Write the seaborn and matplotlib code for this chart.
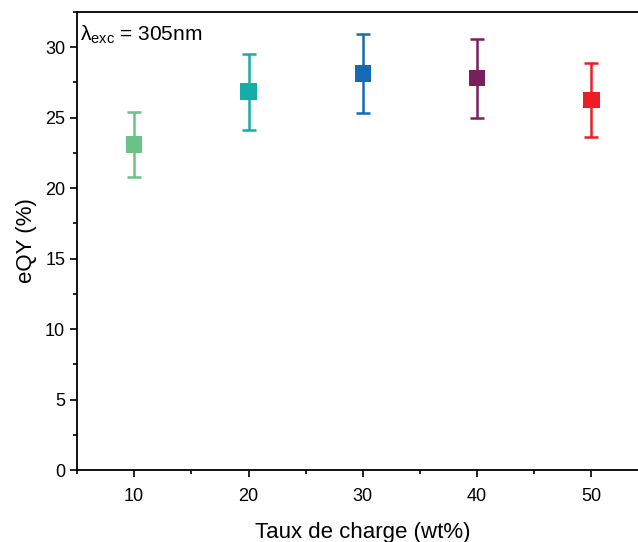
import numpy as np
import pandas as pd
import seaborn as sns
import matplotlib.pyplot as plt
from matplotlib.ticker import MultipleLocator

loading = [10, 20, 30, 40, 50]           # wt%
eqy = [23.1, 26.85, 28.15, 27.8, 26.25]  # %
err = [2.3, 2.7, 2.8, 2.8, 2.6]
colors = ['#6cc285', '#13aea8', '#1569b5', '#7a1f5d', '#ee1c25']

sns.set_theme(style='ticks')
plt.rcParams['font.family'] = ['Liberation Sans', 'DejaVu Sans']
plt.rcParams['text.color'] = 'black'
plt.rcParams['axes.labelcolor'] = 'black'
plt.rcParams['xtick.color'] = 'black'
plt.rcParams['ytick.color'] = 'black'

df = pd.DataFrame({'x': loading, 'y': eqy, 'err': err})

fig = plt.figure(figsize=(6.38, 5.42), dpi=100)
ax = fig.add_axes([0.1207, 0.1328, 0.896, 0.845])

for xi, yi, ei, c in zip(df.x, df.y, df.err, colors):
    ax.errorbar(xi, yi, yerr=ei, fmt='none', ecolor=c, elinewidth=1.8,
                capsize=5, capthick=1.8, zorder=2)
sns.scatterplot(data=df, x='x', y='y', hue='x', palette=colors, marker='s',
                s=140, edgecolor='none', legend=False, ax=ax, zorder=3)

ax.set_xlim(5, 55)
ax.set_ylim(0, 32.5)
ax.xaxis.set_major_locator(MultipleLocator(10))
ax.xaxis.set_minor_locator(MultipleLocator(5))
ax.yaxis.set_major_locator(MultipleLocator(5))
ax.yaxis.set_minor_locator(MultipleLocator(2.5))
ax.tick_params(which='major', length=5, width=1.2, labelsize=13)
ax.tick_params(which='minor', length=3, width=1.2)
ax.tick_params(axis='x', which='major', pad=8)
for s in ax.spines.values():
    s.set_linewidth(1.3)
    s.set_color('black')

ax.set_xlabel('Taux de charge (wt%)', fontsize=16, labelpad=12)
ax.set_ylabel('eQY (%)', fontsize=16, labelpad=6)
ax.text(0.005, 0.975, r'λ$_{\mathregular{exc}}$ = 305nm', transform=ax.transAxes,
        fontsize=15, va='top', ha='left')

fig.savefig('out.png', dpi=100)
